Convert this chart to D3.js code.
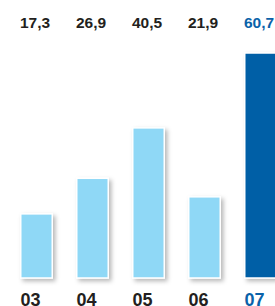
<!DOCTYPE html>
<html><head><meta charset="utf-8">
<script src="https://cdn.jsdelivr.net/npm/d3@7"></script>
<style>html,body{margin:0;padding:0;background:#fff;overflow:hidden}</style>
</head><body>
<svg id="c" width="275" height="306"></svg>
<script>
const categories = ["03", "04", "05", "06", "07"];
const values = [17.3, 26.9, 40.5, 21.9, 60.7];
const valueLabels = ["17,3", "26,9", "40,5", "21,9", "60,7"];
const highlight = [false, false, false, false, true];

const svg = d3.select("#c");
const defs = svg.append("defs");
const f = defs.append("filter").attr("id","sh").attr("x","-30%").attr("y","-30%").attr("width","170%").attr("height","170%");
f.append("feDropShadow").attr("dx",2.5).attr("dy",2.5).attr("stdDeviation",2).attr("flood-color","#000").attr("flood-opacity",0.28);

const x = d3.scalePoint().domain(categories).range([36.5, 260.5]);
const y = d3.scaleLinear().domain([0, 60.7]).range([278, 53]);
const bw = 31.5;
const light = "#8fd8f6", dark = "#005ea6";

svg.selectAll("rect.bar").data(values).join("rect")
  .attr("class","bar")
  .attr("x",(d,i)=>x(categories[i]) - bw/2)
  .attr("y",d=>y(d))
  .attr("width",bw)
  .attr("height",d=>y(0)-y(d))
  .attr("fill",(d,i)=>highlight[i]?dark:light)
  .attr("stroke","#fff").attr("stroke-width",1.5)
  .attr("filter","url(#sh)");

svg.selectAll("text.val").data(valueLabels).join("text")
  .attr("class","val")
  .attr("x",(d,i)=>x(categories[i]) - 1.5)
  .attr("y",28)
  .attr("text-anchor","middle")
  .attr("font-family","'Liberation Sans', Arial, Helvetica, sans-serif")
  .attr("font-weight","bold").attr("font-size",15.5)
  .attr("fill",(d,i)=>highlight[i]?"#0a62a9":"#231f20")
  .text(d=>d);

svg.selectAll("text.cat").data(categories).join("text")
  .attr("class","cat")
  .attr("x",d=>x(d) - 6)
  .attr("y",306)
  .attr("text-anchor","middle")
  .attr("font-family","'Liberation Sans', Arial, Helvetica, sans-serif")
  .attr("font-weight","bold").attr("font-size",18)
  .attr("fill",(d,i)=>highlight[i]?"#0a62a9":"#231f20")
  .text(d=>d);
</script>
</body></html>
